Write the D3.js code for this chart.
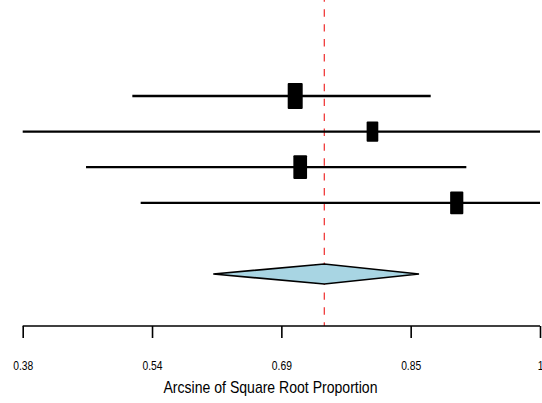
<!DOCTYPE html>
<html>
<head>
<meta charset="utf-8">
<script src="https://cdnjs.cloudflare.com/ajax/libs/d3/7.8.5/d3.min.js"></script>
<style>
  body { margin: 0; background: #ffffff; }
  svg { display: block; }
</style>
</head>
<body>
<div id="chart"></div>
<script>
// study estimates and confidence limits (arcsine sqrt scale)
var studyRow = [4, 3, 2, 1];
var estimate = [0.7066, 0.7992, 0.7126, 0.9002];
var ciLower  = [0.5114, 0.38,   0.4559, 0.5214];
var ciUpper  = [0.869,  1.0,    0.9117, 1.0];
var weights  = [28.0, 21.8, 25.6, 24.6];

// pooled estimate
var pooledRow = -1;
var pooled = 0.7415;
var pooledLower = 0.6084;
var pooledUpper = 0.855;

var tickValues = [0.38, 0.535, 0.69, 0.845, 1];
var tickLabels = ["0.38", "0.54", "0.69", "0.85", "1"];
var xTitle = "Arcsine of Square Root Proportion";

var width = 542, height = 403;

var svg = d3.select("#chart").append("svg")
  .attr("width", width)
  .attr("height", height);

var x = d3.scaleLinear().domain([0.38, 1]).range([22.7, 540]);
var y = d3.scaleLinear().domain([4, -1]).range([96, 274]);
var boxW = d3.scaleLinear().domain([0, d3.max(weights)]).range([0, 15]);

var axisY = 326;

// reference line at pooled estimate
svg.append("line")
  .attr("x1", x(pooled))
  .attr("x2", x(pooled))
  .attr("y1", 0)
  .attr("y2", axisY)
  .attr("stroke", "#f03c3c")
  .attr("stroke-width", 1.3)
  .attr("stroke-dasharray", "7.4,7.5")
  .attr("stroke-dashoffset", 5.6);

// confidence intervals
studyRow.forEach(function (r, i) {
  svg.append("line")
    .attr("x1", x(ciLower[i]))
    .attr("x2", x(ciUpper[i]))
    .attr("y1", y(r))
    .attr("y2", y(r))
    .attr("stroke", "#000000")
    .attr("stroke-width", 2.3);

  var w = boxW(weights[i]);
  var h = w * 1.73;
  svg.append("rect")
    .attr("x", x(estimate[i]) - w / 2)
    .attr("y", y(r) - h / 2)
    .attr("width", w)
    .attr("height", h)
    .attr("rx", 1)
    .attr("fill", "#000000");
});

// summary diamond
var py = y(pooledRow);
var diamond = [
  [x(pooledLower), py],
  [x(pooled), py - 10],
  [x(pooledUpper), py],
  [x(pooled), py + 10]
];
svg.append("path")
  .attr("d", d3.line()(diamond) + "Z")
  .attr("fill", "#a8d5e3")
  .attr("stroke", "#000000")
  .attr("stroke-width", 1.6)
  .attr("stroke-linejoin", "miter");

// x axis
var axis = d3.axisBottom(x)
  .tickValues(tickValues)
  .tickFormat(function (d, i) { return tickLabels[i]; })
  .tickSizeOuter(0)
  .tickSizeInner(12)
  .tickPadding(23.5);

var g = svg.append("g")
  .attr("transform", "translate(0," + axisY + ")")
  .call(axis);

g.select(".domain")
  .attr("stroke", "#000000")
  .attr("stroke-width", 1.6)
  .attr("d", "M" + x(0.38) + ",0H" + x(1));
g.selectAll(".tick line")
  .attr("stroke", "#000000")
  .attr("stroke-width", 1.6);
g.selectAll(".tick text")
  .attr("fill", "#000000")
  .attr("transform", "scale(0.86,1)")
  .style("font-family", "'Liberation Sans', Arial, sans-serif")
  .style("font-size", "12px");

svg.append("text")
  .attr("x", 270.5)
  .attr("y", 393)
  .attr("text-anchor", "middle")
  .attr("textLength", 214)
  .attr("lengthAdjust", "spacingAndGlyphs")
  .style("font-family", "'Liberation Sans', Arial, sans-serif")
  .style("font-size", "17px")
  .attr("fill", "#000000")
  .text(xTitle);
</script>
</body>
</html>
